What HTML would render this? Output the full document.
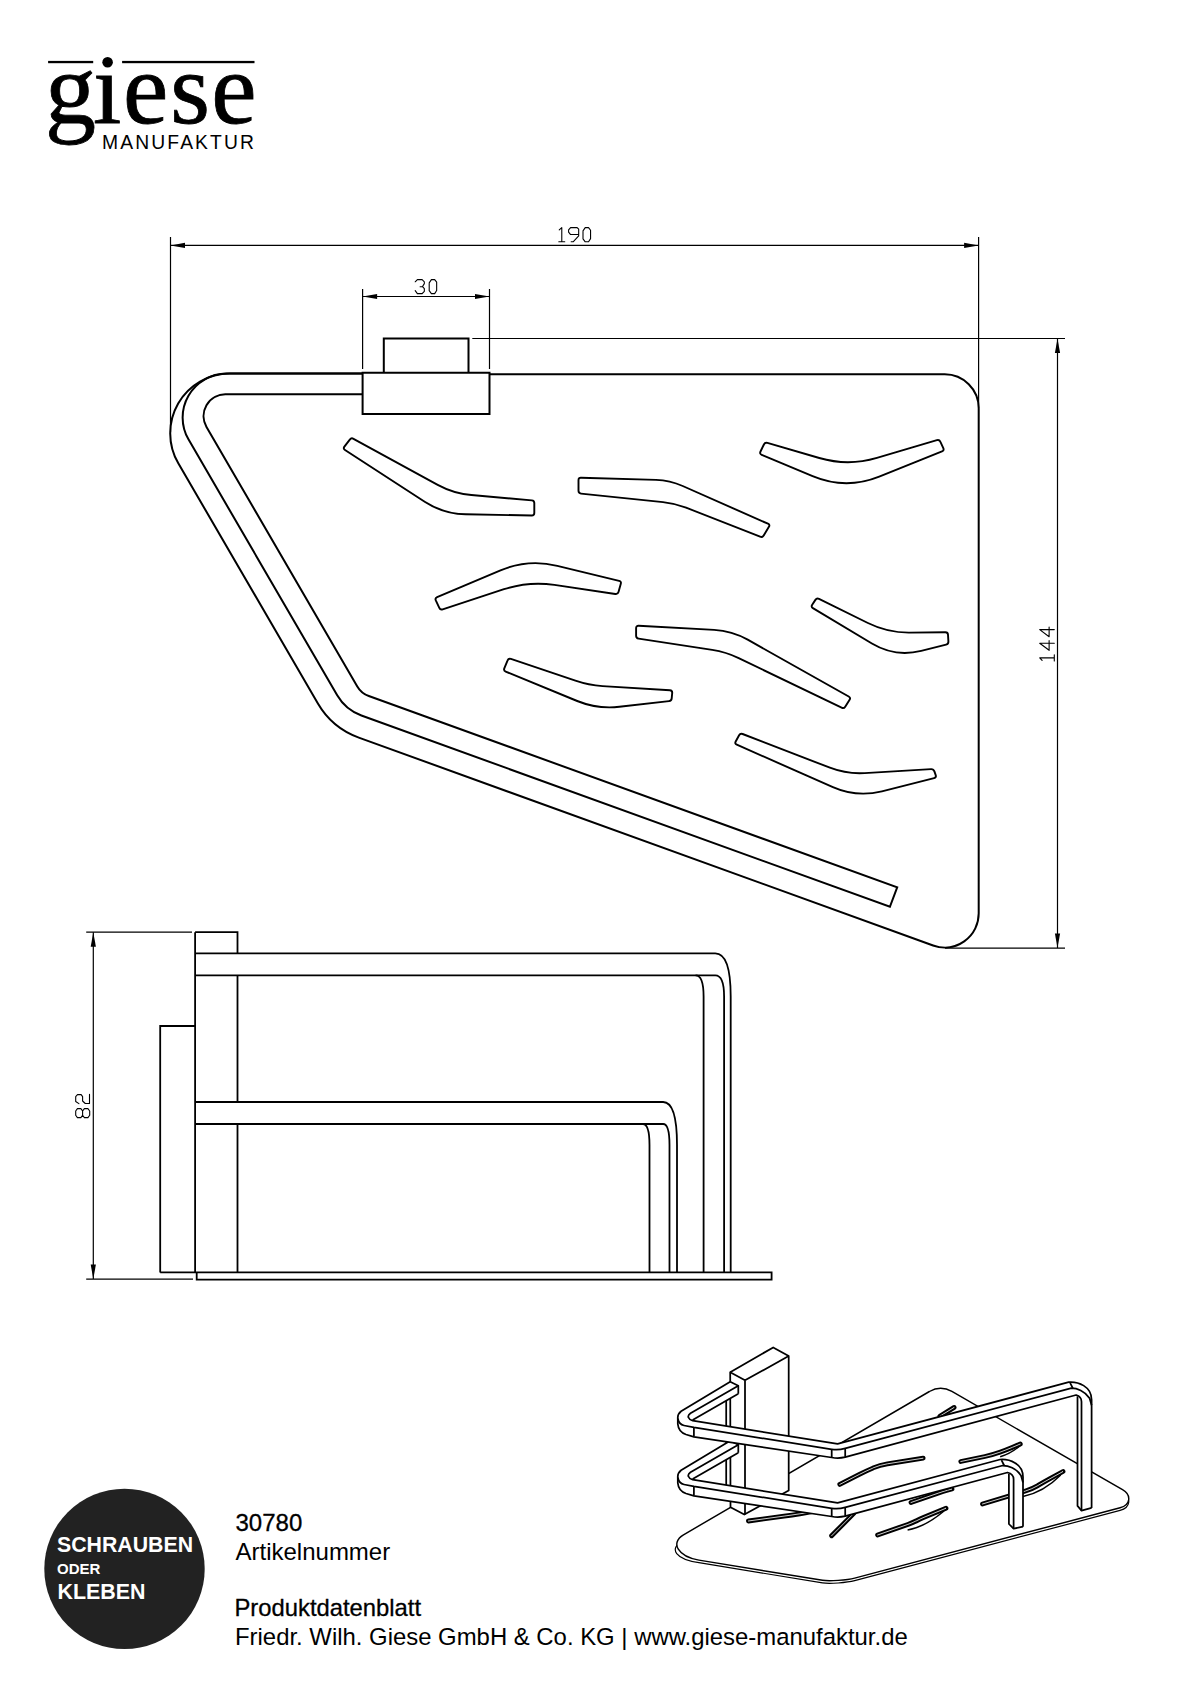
<!DOCTYPE html>
<html><head><meta charset="utf-8"><style>
html,body{margin:0;padding:0;background:#fff;}
body{width:1190px;height:1684px;position:relative;overflow:hidden;font-family:"Liberation Sans",sans-serif;}
svg{position:absolute;left:0;top:0;}
.t{position:absolute;white-space:nowrap;color:#000;line-height:1;}
</style></head><body>
<svg width="1190" height="1684" viewBox="0 0 1190 1684" stroke-linecap="butt">
<path d="M362.6,373.6 L226.5,373.6 A43.9,43.9 0 0 0 188.6,439.6 L337.2,695.3 A46,46 0 0 0 361.4,715.5 L889.9,906.8 L897.2,887.3 L368.8,696 A22,22 0 0 1 357.3,686.4 L206.5,427 A21.8,21.8 0 0 1 225.3,394.3 L362.6,394.3" stroke="#000" fill="none" stroke-width="2.0" />
<path d="M489.5,374.3 L944.7,374.3 A34,34 0 0 1 978.7,408.3 L978.7,913.6 A34,34 0 0 1 933.1,945.5 L358.8,737.6 A78,78 0 0 1 317.9,703.5 L178.3,463.3 A59.7,59.7 0 0 1 229.9,373.6 L362.6,373.6" stroke="#000" fill="none" stroke-width="2.0" />
<path d="M362.6,372.7 H489.5 V414.1 H362.6 Z" stroke="#000" fill="none" stroke-width="2.0" />
<path d="M383.8,372.7 V338.4 H468.5 V372.7" stroke="#000" fill="none" stroke-width="2.0" />
<path d="M353.5,438.8 L437.7,484.8 Q453.5,493.4 471.4,495 L531.8,500.4 Q534.3,500.6 534.3,503.1 L534.3,513 Q534.3,515.5 531.8,515.5 L465.6,514.3 Q443.6,513.9 425.1,502 L345,450 Q342.9,448.6 344.4,446.6 L349.8,439.6 Q351.3,437.6 353.5,438.8 Z" stroke="#000" fill="none" stroke-width="1.9" stroke-linejoin="round"/>
<path d="M581,477.7 L656,479.9 Q669.9,480.3 682.7,486 L767.9,523.7 Q770.2,524.7 768.9,526.8 L763.7,535.5 Q762.4,537.6 760.1,536.7 L686.1,507.7 Q675,503.3 663,502.1 L581,493.6 Q578.5,493.3 578.5,490.8 L578.5,480.1 Q578.5,477.6 581,477.7 Z" stroke="#000" fill="none" stroke-width="1.9" stroke-linejoin="round"/>
<path d="M767.4,442.9 L819.3,458 Q848.1,466.4 876.9,457.9 L936.9,440.1 Q939.3,439.4 940.3,441.7 L943.3,448.2 Q944.3,450.5 942,451.4 L879.2,476.6 Q845.8,490 812.6,476.1 L761.7,454.8 Q759.4,453.8 760.5,451.5 L763.9,444.5 Q765,442.2 767.4,442.9 Z" stroke="#000" fill="none" stroke-width="1.9" stroke-linejoin="round"/>
<path d="M437.1,597.1 L500.5,570.4 Q528.1,558.7 557.3,565.8 L619.1,580.8 Q621.5,581.4 620.8,583.8 L618.5,592 Q617.8,594.4 615.3,594 L554.4,584.9 Q528.7,581.1 504,589.2 L442.7,609.3 Q440.3,610.1 439.3,607.8 L435.8,600.4 Q434.8,598.1 437.1,597.1 Z" stroke="#000" fill="none" stroke-width="1.9" stroke-linejoin="round"/>
<path d="M819,598.9 L867.9,623 Q887.6,632.8 909.6,632.6 L945.4,632.2 Q947.9,632.2 948,634.7 L948.4,641.5 Q948.5,644 946.1,644.6 L921.2,650.8 Q895.1,657.4 871.9,643.5 L812.9,608.1 Q810.8,606.8 812.2,604.7 L815.4,599.9 Q816.8,597.8 819,598.9 Z" stroke="#000" fill="none" stroke-width="1.9" stroke-linejoin="round"/>
<path d="M638.6,625.8 L714.1,629.9 Q732,630.9 747.7,639.7 L848.7,696.5 Q850.9,697.7 849.6,699.8 L845.2,706.7 Q843.9,708.8 841.6,707.7 L738.7,658.1 Q726.1,652 712.2,649.9 L638.6,638.6 Q636.1,638.2 636.1,635.7 L636.1,628.2 Q636.1,625.7 638.6,625.8 Z" stroke="#000" fill="none" stroke-width="1.9" stroke-linejoin="round"/>
<path d="M510.9,658.9 L575.4,680.7 Q588.6,685.2 602.6,686.1 L669.9,690.3 Q672.4,690.5 672.2,693 L671.7,698.3 Q671.5,700.8 669,701.1 L619.4,706.8 Q597.6,709.3 577.2,701 L505.7,671.6 Q503.4,670.6 504.3,668.3 L507.6,660.4 Q508.5,658.1 510.9,658.9 Z" stroke="#000" fill="none" stroke-width="1.9" stroke-linejoin="round"/>
<path d="M742.6,734 L829.9,767.7 Q846.7,774.2 864.7,773.1 L931.1,769.1 Q933.6,769 934.4,771.4 L935.7,775.1 Q936.5,777.5 934.1,778.1 L881.9,791.3 Q856.7,797.6 832.9,787.1 L736.8,744.7 Q734.5,743.7 735.7,741.5 L739.1,735.3 Q740.3,733.1 742.6,734 Z" stroke="#000" fill="none" stroke-width="1.9" stroke-linejoin="round"/>
<path d="M170.5,237 V432" stroke="#000" fill="none" stroke-width="1.2" />
<path d="M978.6,237 V408" stroke="#000" fill="none" stroke-width="1.2" />
<path d="M170.5,245.4 H978.6" stroke="#000" fill="none" stroke-width="1.2" />
<path d="M170.5,245.4 L185,242.8 L185,248 Z" fill="#000"/>
<path d="M978.6,245.4 L964.1,248 L964.1,242.8 Z" fill="#000"/>
<path d="M362.6,289 V369" stroke="#000" fill="none" stroke-width="1.2" />
<path d="M489.5,289 V369" stroke="#000" fill="none" stroke-width="1.2" />
<path d="M362.6,296.5 H489.5" stroke="#000" fill="none" stroke-width="1.2" />
<path d="M362.6,296.5 L377.1,293.9 L377.1,299.1 Z" fill="#000"/>
<path d="M489.5,296.5 L475,299.1 L475,293.9 Z" fill="#000"/>
<path d="M472.3,338.5 H1065" stroke="#000" fill="none" stroke-width="1.2" />
<path d="M945,948.1 H1065" stroke="#000" fill="none" stroke-width="1.2" />
<path d="M1057.5,338.5 V948.1" stroke="#000" fill="none" stroke-width="1.2" />
<path d="M1057.5,338.5 L1060.1,353 L1054.9,353 Z" fill="#000"/>
<path d="M1057.5,948.1 L1054.9,933.6 L1060.1,933.6 Z" fill="#000"/>
<path d="M86.2,932.2 H192" stroke="#000" fill="none" stroke-width="1.2" />
<path d="M86.2,1279.1 H193" stroke="#000" fill="none" stroke-width="1.2" />
<path d="M93.3,932.2 V1279.1" stroke="#000" fill="none" stroke-width="1.2" />
<path d="M93.3,932.2 L95.9,946.7 L90.7,946.7 Z" fill="#000"/>
<path d="M93.3,1279.1 L90.7,1264.6 L95.9,1264.6 Z" fill="#000"/>
<path d="M195.1,932.2 H237.5 V953.1 M237.5,975.1 V1102 M237.5,1124 V1272.4" stroke="#000" fill="none" stroke-width="1.8" />
<path d="M195.1,932.2 V1272.4" stroke="#000" fill="none" stroke-width="1.8" />
<path d="M160.2,1272.4 V1026 H195.1" stroke="#000" fill="none" stroke-width="1.8" />
<path d="M160.2,1272.4 H771.6 V1279.7 H196.7 V1272.4" stroke="#000" fill="none" stroke-width="1.8" />
<path d="M195.1,953.4 H715.3 Q730.7,953.4 730.7,996.6 V1272.4" stroke="#000" fill="none" stroke-width="1.8" />
<path d="M195.1,975.4 H715.3 Q724.1,975.4 724.1,996.6 V1272.4" stroke="#000" fill="none" stroke-width="1.8" />
<path d="M695.6,975.4 Q703.6,975.4 703.6,996.6 V1272.4" stroke="#000" fill="none" stroke-width="1.8" />
<path d="M195.1,1102 H663.1 Q677,1102 677,1145 V1272.4" stroke="#000" fill="none" stroke-width="1.8" />
<path d="M195.1,1124 H663.1 Q669.5,1124 669.5,1145 V1272.4" stroke="#000" fill="none" stroke-width="1.8" />
<path d="M642.8,1124 Q649.5,1124 649.5,1145 V1272.4" stroke="#000" fill="none" stroke-width="1.8" />
<path d="M682.5,1540.8 C668.2,1549.3 675.9,1559 698.9,1562.7 L822.5,1582.9 C829.1,1584 846.9,1582.8 854.7,1580.7 L1120.1,1510.4 C1130.5,1507.7 1131.8,1497.7 1122.5,1492.3" stroke="#000" fill="none" stroke-width="1.2"/>
<path d="M929.4,1391.5 L683.5,1534.8 C669.8,1542.8 678.2,1556.7 698.9,1560.1 L822.5,1580.3 C829.1,1581.4 846.9,1580.2 854.7,1578.1 L1120.1,1507.8 C1130.5,1505.1 1131.8,1495.1 1122.5,1489.7 L951.9,1391.4 C944.9,1387.4 936.3,1387.4 929.4,1391.5 Z" stroke="#000" fill="#fff" stroke-width="1.45"/>
<path d="M939.8,1416.2 L954.2,1407.4 Q954.2,1407.4 954.2,1407.4" stroke="#000" fill="none" stroke-width="4.8" stroke-linecap="round" stroke-linejoin="round"/>
<path d="M939.8,1416.2 L954.2,1407.4 Q954.2,1407.4 954.2,1407.4" stroke="#fff" fill="none" stroke-width="1.0" stroke-linecap="round" stroke-linejoin="round" opacity="0.8"/>
<path d="M839.8,1484.4 L859.4,1474.4 Q866,1471 872.9,1468.1 L873.1,1467.9 Q880,1465 887.4,1463.8 L923.2,1458.2 Q923.2,1458.2 923.2,1458.2" stroke="#000" fill="none" stroke-width="4.8" stroke-linecap="round" stroke-linejoin="round"/>
<path d="M839.8,1484.4 L859.4,1474.4 Q866,1471 872.9,1468.1 L873.1,1467.9 Q880,1465 887.4,1463.8 L923.2,1458.2 Q923.2,1458.2 923.2,1458.2" stroke="#fff" fill="none" stroke-width="1.0" stroke-linecap="round" stroke-linejoin="round" opacity="0.8"/>
<path d="M960.8,1461.5 L984.9,1456.5 Q992,1455 998.9,1452.5 L999.1,1452.5 Q1006,1450 1012.7,1447.2 L1020.3,1444 Q1020.3,1444 1020.3,1444" stroke="#000" fill="none" stroke-width="4.8" stroke-linecap="round" stroke-linejoin="round"/>
<path d="M960.8,1461.5 L984.9,1456.5 Q992,1455 998.9,1452.5 L999.1,1452.5 Q1006,1450 1012.7,1447.2 L1020.3,1444 Q1020.3,1444 1020.3,1444" stroke="#fff" fill="none" stroke-width="1.0" stroke-linecap="round" stroke-linejoin="round" opacity="0.8"/>
<path d="M748.4,1521 L784.1,1516.1 Q792,1515 799.9,1513.8 L804.1,1513.2 Q812,1512 819.6,1509.5 L830,1506 Q830,1506 830,1506" stroke="#000" fill="none" stroke-width="4.8" stroke-linecap="round" stroke-linejoin="round"/>
<path d="M748.4,1521 L784.1,1516.1 Q792,1515 799.9,1513.8 L804.1,1513.2 Q812,1512 819.6,1509.5 L830,1506 Q830,1506 830,1506" stroke="#fff" fill="none" stroke-width="1.0" stroke-linecap="round" stroke-linejoin="round" opacity="0.8"/>
<path d="M911,1502.5 L938.7,1493 Q943,1491.5 947.4,1490.3 L952,1489 Q952,1489 952,1489" stroke="#000" fill="none" stroke-width="4.8" stroke-linecap="round" stroke-linejoin="round"/>
<path d="M911,1502.5 L938.7,1493 Q943,1491.5 947.4,1490.3 L952,1489 Q952,1489 952,1489" stroke="#fff" fill="none" stroke-width="1.0" stroke-linecap="round" stroke-linejoin="round" opacity="0.8"/>
<path d="M877.6,1535 L907.9,1524.4 Q912,1523 915.9,1521 L916.1,1521 Q920,1519 924,1517.3 L946,1508.2 Q946,1508.2 946,1508.2" stroke="#000" fill="none" stroke-width="4.8" stroke-linecap="round" stroke-linejoin="round"/>
<path d="M877.6,1535 L907.9,1524.4 Q912,1523 915.9,1521 L916.1,1521 Q920,1519 924,1517.3 L946,1508.2 Q946,1508.2 946,1508.2" stroke="#fff" fill="none" stroke-width="1.0" stroke-linecap="round" stroke-linejoin="round" opacity="0.8"/>
<path d="M831.6,1535.8 L853.8,1513.4 Q853.8,1513.4 853.8,1513.4" stroke="#000" fill="none" stroke-width="4.8" stroke-linecap="round" stroke-linejoin="round"/>
<path d="M831.6,1535.8 L853.8,1513.4 Q853.8,1513.4 853.8,1513.4" stroke="#fff" fill="none" stroke-width="1.0" stroke-linecap="round" stroke-linejoin="round" opacity="0.8"/>
<path d="M982.5,1504 L1025.5,1491 Q1032,1489 1037.9,1485.6 L1038.1,1485.4 Q1044,1482 1050,1478.7 L1063,1471.5 Q1063,1471.5 1063,1471.5" stroke="#000" fill="none" stroke-width="4.8" stroke-linecap="round" stroke-linejoin="round"/>
<path d="M982.5,1504 L1025.5,1491 Q1032,1489 1037.9,1485.6 L1038.1,1485.4 Q1044,1482 1050,1478.7 L1063,1471.5 Q1063,1471.5 1063,1471.5" stroke="#fff" fill="none" stroke-width="1.0" stroke-linecap="round" stroke-linejoin="round" opacity="0.8"/>
<path d="M907.6,1530 Q925,1527 944,1511" stroke="#000" fill="none" stroke-width="1.5"/>
<path d="M1023,1496.5 Q1044,1492 1060.7,1475" stroke="#000" fill="none" stroke-width="1.5"/>
<path d="M1000.2,1456.8 Q1012,1453 1020.3,1445.4" stroke="#000" fill="none" stroke-width="1.5"/>
<path d="M726.2,1399 V1500" stroke="#000" stroke-width="1.75" fill="none"/>
<path d="M730.2,1372.3 L773.2,1347.4 L788.7,1356.1 L788.7,1490.4 L744.3,1514.6 L730.5,1507.2 Z" stroke="#000" fill="#fff" stroke-width="1.75" stroke-linejoin="round"/>
<path d="M730.2,1372.3 L745,1380.3 L788.7,1356.1 M745,1380.3 V1514.6" stroke="#000" fill="none" stroke-width="1.75"/>
<path d="M730.2,1440.7 L681.1,1470.3 Q677.5,1473 677.8,1477.5 V1483 Q678.5,1491 686,1493.5 L693.9,1495.8 L831.7,1516.5 L838.5,1517.3 L845.2,1516.2 L1007.5,1472.5 L1008.9,1473.8 V1524 L1013.6,1528.7 L1023,1526.7 V1477 C1023,1463.5 1009.4,1458.8 1000.1,1459.5 L837.6,1502.9 L692.6,1479.7 L738.3,1452.8 V1444.7 Z" fill="#fff" stroke="none"/>
<path d="M730.2,1440.7 L681.1,1470.3 Q677.5,1473 677.8,1477.5 Q679,1483.5 684,1484.5 L693.9,1486.4 L831.7,1508.3 Q838.5,1509.3 845.2,1507.4 L1002.8,1465.5 C1008.2,1465.5 1016.3,1468.2 1021,1475.6 L1023,1482.5" stroke="#000" fill="none" stroke-width="1.75" stroke-linejoin="round"/>
<path d="M738.3,1444.7 L690.5,1472.3 Q687.5,1474.5 688.5,1476.5 Q689.5,1479 692.6,1479.7 L837.6,1502.9 L1000.1,1459.5 C1009.4,1458.8 1023,1463.5 1023,1477 V1526.7" stroke="#000" fill="none" stroke-width="1.75" stroke-linejoin="round"/>
<path d="M738.3,1452.8 L692.6,1479 M730.2,1440.7 L738.3,1444.7 V1452.8" stroke="#000" fill="none" stroke-width="1.75" stroke-linejoin="round"/>
<path d="M677.8,1477.5 V1483 Q678.5,1491 686,1493.5 L693.9,1495.8 L831.7,1516.5 Q838.5,1517.7 845.2,1516.2 L1007.5,1472.5 Q1013.6,1474 1013.6,1479.2 V1528.7" stroke="#000" fill="none" stroke-width="1.75" stroke-linejoin="round"/>
<path d="M1008.9,1473.8 V1524 L1013.6,1528.7 L1023,1526.7" stroke="#000" fill="none" stroke-width="1.75" stroke-linejoin="round"/>
<path d="M693.9,1486.4 V1495.8 M831.7,1508.3 V1516.5 M845.2,1507.4 V1516.2 M1001.5,1460.2 L1004.2,1465.5" stroke="#000" fill="none" stroke-width="1.75" stroke-linejoin="round"/>
<path d="M730.2,1381.7 L681.1,1411.3 Q677.5,1414 677.8,1418.5 V1424 Q678.5,1432 686,1434.5 L693.9,1436.8 L831.7,1457.5 L838.5,1458.3 L845.2,1457.2 L1076.1,1395 L1077.5,1396.3 V1505.9 L1081.5,1510.6 L1091.6,1507.9 V1399.7 C1091.6,1386.2 1078,1381.5 1068.7,1382.2 L837.6,1443.9 L692.6,1420.7 L738.3,1393.8 V1385.7 Z" fill="#fff" stroke="none"/>
<path d="M730.2,1381.7 L681.1,1411.3 Q677.5,1414 677.8,1418.5 Q679,1424.5 684,1425.5 L693.9,1427.4 L831.7,1449.3 Q838.5,1450.3 845.2,1448.4 L1071.4,1388.2 C1076.8,1388.2 1084.9,1390.9 1089.6,1398.3 L1091.6,1405.2" stroke="#000" fill="none" stroke-width="1.75" stroke-linejoin="round"/>
<path d="M738.3,1385.7 L690.5,1413.3 Q687.5,1415.5 688.5,1417.5 Q689.5,1420 692.6,1420.7 L837.6,1443.9 L1068.7,1382.2 C1078,1381.5 1091.6,1386.2 1091.6,1399.7 V1507.9" stroke="#000" fill="none" stroke-width="1.75" stroke-linejoin="round"/>
<path d="M738.3,1393.8 L692.6,1420 M730.2,1381.7 L738.3,1385.7 V1393.8" stroke="#000" fill="none" stroke-width="1.75" stroke-linejoin="round"/>
<path d="M677.8,1418.5 V1424 Q678.5,1432 686,1434.5 L693.9,1436.8 L831.7,1457.5 Q838.5,1458.7 845.2,1457.2 L1076.1,1395 Q1081.5,1396.5 1081.5,1401.7 V1510.6" stroke="#000" fill="none" stroke-width="1.75" stroke-linejoin="round"/>
<path d="M1077.5,1396.3 V1505.9 L1081.5,1510.6 L1091.6,1507.9" stroke="#000" fill="none" stroke-width="1.75" stroke-linejoin="round"/>
<path d="M693.9,1427.4 V1436.8 M831.7,1449.3 V1457.5 M845.2,1448.4 V1457.2 M1070.1,1382.9 L1072.8,1388.2" stroke="#000" fill="none" stroke-width="1.75" stroke-linejoin="round"/>
<path d="M559.23,229.94 L561.78,227.60 L561.78,241.80 M558.80,241.80 L564.76,241.80 M568.60,229.94 L570.59,227.60 L577.12,227.60 L578.68,229.23 L578.68,235.76 L573.14,241.80 L571.16,241.80 M578.68,234.56 L570.59,234.56 L568.60,232.14 L568.60,229.94 M583.00,230.87 L585.23,227.60 L588.54,227.60 L590.57,230.23 L590.57,238.62 L588.54,241.80 L585.23,241.80 L583.00,238.82 L583.00,230.87" stroke="#000" fill="none" stroke-width="1.1" stroke-linejoin="round" stroke-linecap="round"/>
<path d="M415.20,281.77 L417.38,279.60 L422.14,279.60 L424.34,281.77 L424.34,283.60 L422.52,286.52 L420.12,286.70 M422.52,286.60 L424.34,288.70 L424.34,291.26 L422.14,293.60 L417.38,293.60 L415.20,290.66 M429.20,282.82 L431.40,279.60 L434.66,279.60 L436.66,282.19 L436.66,290.46 L434.66,293.60 L431.40,293.60 L429.20,290.66 L429.20,282.82" stroke="#000" fill="none" stroke-width="1.1" stroke-linejoin="round" stroke-linecap="round"/>
<path transform="translate(1039.7,660.9) rotate(-90)" d="M0.44,2.41 L3.07,0.00 L3.07,14.60 M0.00,14.60 L6.13,14.60 M17.68,14.60 L17.68,0.00 L10.60,9.42 L20.24,9.42 M31.28,14.60 L31.28,0.00 L24.20,9.42 L33.84,9.42" stroke="#000" fill="none" stroke-width="1.1" stroke-linejoin="round" stroke-linecap="round"/>
<path transform="translate(75.7,1117.6) rotate(-90)" d="M2.33,0.00 L6.63,0.00 L8.96,1.73 L8.96,5.18 L6.63,6.90 L2.33,6.90 L0.00,5.18 L0.00,1.73 L2.33,0.00 M2.33,6.90 L6.63,6.90 L8.96,8.68 L8.96,12.23 L6.63,14.00 L2.33,14.00 L0.00,12.23 L0.00,8.68 L2.33,6.90 M13.94,3.22 L16.12,0.00 L21.04,0.00 L22.97,1.79 L22.97,5.45 L21.04,6.90 L16.60,6.90 L14.08,9.56 L14.08,13.80 L23.18,13.80" stroke="#000" fill="none" stroke-width="1.1" stroke-linejoin="round" stroke-linecap="round"/>
<circle cx="124.5" cy="1568.9" r="80.2" fill="#222"/>
<rect x="48.1" y="60.9" width="45.1" height="2.3" fill="#000"/>
<rect x="122.1" y="60.9" width="132.4" height="2.3" fill="#000"/>
<circle cx="107.6" cy="62.2" r="5.3" fill="#000"/>
</svg>
<div class="t" id="giese" style="left:46px;top:37.5px;font-family:'Liberation Serif',serif;font-size:102px;-webkit-text-stroke:0.8px #000;"><span style="position:relative;left:-0.9px">g</span><span style="position:relative;left:-3.9px">&#305;</span><span style="position:relative;left:-2.4px">e</span><span style="position:relative;left:-0.5px">s</span><span style="position:relative;left:1px">e</span></div>
<div class="t" id="manu" style="left:102px;top:132.5px;font-size:19.3px;letter-spacing:2.13px;">MANUFAKTUR</div>
<div class="t" id="c1" style="left:57px;top:1534.8px;font-size:21.3px;font-weight:bold;color:#fff;">SCHRAUBEN</div>
<div class="t" id="c2" style="left:57px;top:1561.3px;font-size:15px;font-weight:bold;color:#fff;">ODER</div>
<div class="t" id="c3" style="left:57.5px;top:1581.8px;font-size:21.4px;font-weight:bold;color:#fff;">KLEBEN</div>
<div class="t" id="a1" style="left:235.5px;top:1511px;font-size:24px;-webkit-text-stroke:0.3px #000;">30780</div>
<div class="t" id="a2" style="left:235.5px;top:1540px;font-size:24px;">Artikelnummer</div>
<div class="t" id="a3" style="left:234.5px;top:1596px;font-size:23.8px;-webkit-text-stroke:0.3px #000;">Produktdatenblatt</div>
<div class="t" id="a4" style="left:235px;top:1625px;font-size:23.9px;">Friedr. Wilh. Giese GmbH &amp; Co. KG | www.giese-manufaktur.de</div>
</body></html>
